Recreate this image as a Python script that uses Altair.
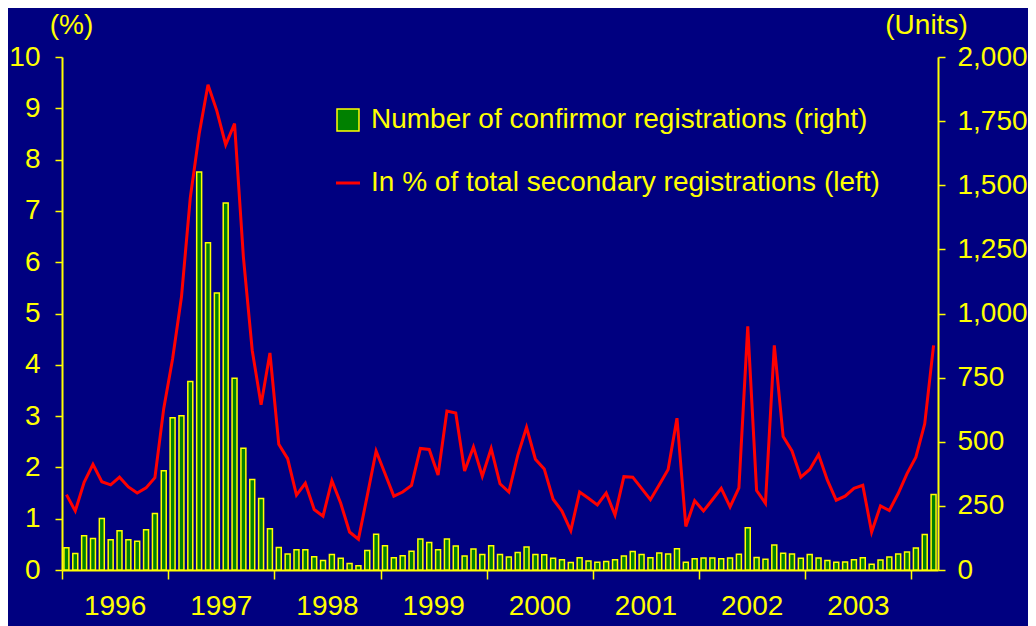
import altair as alt
import pandas as pd

# Monthly data, Jan 1996 .. Mar 2004
units = [87, 64, 134, 123, 201, 118, 153, 118, 112, 157, 220, 387,
         594, 601, 735, 1552, 1276, 1080, 1431, 748, 475, 353, 279, 161,
         88, 62, 79, 79, 52, 37, 60, 46, 25, 17, 76, 139,
         95, 48, 56, 73, 121, 107, 79, 121, 94, 55, 82, 60,
         95, 60, 51, 68, 90, 60, 59, 46, 40, 29, 48, 35,
         30, 33, 40, 55, 72, 60, 48, 66, 62, 83, 30, 44,
         47, 47, 44, 47, 61, 165, 49, 42, 97, 65, 62, 46,
         60, 47, 37, 30, 31, 40, 48, 22, 39, 51, 62, 70,
         86, 138, 294]

pct = [1.47, 1.15, 1.71, 2.06, 1.72, 1.66, 1.81, 1.62, 1.50, 1.60, 1.80, 3.15,
       4.12, 5.32, 7.26, 8.50, 9.46, 8.95, 8.29, 8.70, 6.10, 4.28, 3.22, 4.23,
       2.45, 2.17, 1.46, 1.69, 1.18, 1.05, 1.74, 1.30, 0.74, 0.60, 1.45, 2.32,
       1.88, 1.44, 1.52, 1.65, 2.37, 2.35, 1.85, 3.10, 3.06, 1.93, 2.40, 1.83,
       2.37, 1.68, 1.52, 2.23, 2.78, 2.16, 1.97, 1.38, 1.15, 0.77, 1.52, 1.40,
       1.27, 1.50, 1.07, 1.82, 1.81, 1.59, 1.37, 1.66, 1.96, 2.96, 0.85, 1.35,
       1.15, 1.37, 1.59, 1.23, 1.60, 4.75, 1.55, 1.30, 4.38, 2.60, 2.32, 1.81,
       1.96, 2.25, 1.75, 1.36, 1.44, 1.59, 1.65, 0.74, 1.25, 1.16, 1.49, 1.88,
       2.20, 2.85, 4.38]

years = ["1996", "1997", "1998", "1999", "2000", "2001", "2002", "2003"]
year_ticks = [0, 12, 24, 36, 48, 60, 72, 84, 96]
left_ticks = [0, 1, 2, 3, 4, 5, 6, 7, 8, 9, 10]
right_ticks = [0, 250, 500, 750, 1000, 1250, 1500, 1750, 2000]

BAR_NAME = "Number of confirmor registrations (right)"
LINE_NAME = "In % of total secondary registrations (left)"

YEL = "#FFFF00"
BG = "#000080"
FONT = "Liberation Sans"
FS = 28
N = len(units)

df = pd.DataFrame({
    "m": list(range(N)),
    "units": units,
    "pct": pct,
})
df["x0"] = df["m"] + 0.22
df["x1"] = df["m"] + 0.78
df["xc"] = df["m"] + 0.5
df["bar_s"] = BAR_NAME
df["line_s"] = LINE_NAME

ydf = pd.DataFrame({"year": years, "xm": [12 * i + 6 for i in range(len(years))]})

W, H = 876, 513
xscale = alt.Scale(domain=[0, N], nice=False, zero=False)

bars = alt.Chart(df).mark_bar(stroke=YEL, strokeWidth=1.5).encode(
    x=alt.X("x0:Q", scale=xscale,
            axis=alt.Axis(values=year_ticks, labels=False, tickSize=9, tickWidth=1.5,
                          tickColor=YEL, domainColor=YEL, domainWidth=2, grid=False, title=None)),
    x2="x1:Q",
    y=alt.Y("units:Q", scale=alt.Scale(domain=[0, 2000], nice=False),
            axis=alt.Axis(orient="right", values=right_ticks, format=",d", grid=False,
                          labelColor=YEL, labelFontSize=FS, labelFont=FONT, labelPadding=12,
                          tickColor=YEL, tickSize=7, tickWidth=1.5,
                          domainColor=YEL, domainWidth=2,
                          title="(Units)", titleAngle=0, titleColor=YEL, titleFont=FONT,
                          titleFontSize=FS, titleFontWeight="normal", titleAlign="center",
                          titleBaseline="middle", titleX=-12, titleY=-32)),
    y2=alt.datum(0),
    fill=alt.Fill("bar_s:N", scale=alt.Scale(range=["#008000"]),
                  legend=alt.Legend(title=None, orient="none", legendX=272, legendY=49,
                                    symbolType="square", symbolSize=484,
                                    symbolStrokeColor=YEL, symbolStrokeWidth=1.5,
                                    labelColor=YEL, labelFontSize=FS, labelFont=FONT,
                                    labelOffset=9, padding=0, labelLimit=800)),
)

line = alt.Chart(df).mark_line(strokeWidth=3).encode(
    x=alt.X("xc:Q", scale=xscale),
    y=alt.Y("pct:Q", scale=alt.Scale(domain=[0, 10], nice=False),
            axis=alt.Axis(orient="left", values=left_ticks, grid=False,
                          labelColor=YEL, labelFontSize=FS, labelFont=FONT, labelPadding=15,
                          tickColor=YEL, tickSize=7, tickWidth=1.5,
                          domainColor=YEL, domainWidth=2,
                          title="(%)", titleAngle=0, titleColor=YEL, titleFont=FONT,
                          titleFontSize=FS, titleFontWeight="normal", titleAlign="center",
                          titleBaseline="middle", titleX=9, titleY=-32)),
    stroke=alt.Stroke("line_s:N", scale=alt.Scale(range=["#FF0000"]),
                      legend=alt.Legend(title=None, orient="none", legendX=272, legendY=112,
                                        symbolType="stroke", symbolSize=576,
                                        symbolStrokeWidth=3,
                                        labelColor=YEL, labelFontSize=FS, labelFont=FONT,
                                        labelOffset=9, padding=0, labelLimit=800)),
)

year_text = alt.Chart(ydf).mark_text(color=YEL, fontSize=FS, font=FONT, baseline="middle",
                                     align="center").encode(
    x=alt.X("xm:Q", scale=xscale),
    y=alt.value(H + 37),
    text="year:N",
)

chart = alt.layer(bars, line, year_text).resolve_scale(
    y="independent", fill="independent", stroke="independent"
).properties(
    width=W, height=H,
    background=BG,
    padding={"left": 54, "top": 49, "right": 90, "bottom": 62},
    autosize=alt.AutoSizeParams(type="none"),
).configure_view(stroke=None)

chart.save("out.html", embed_options={"renderer": "svg", "actions": False})
